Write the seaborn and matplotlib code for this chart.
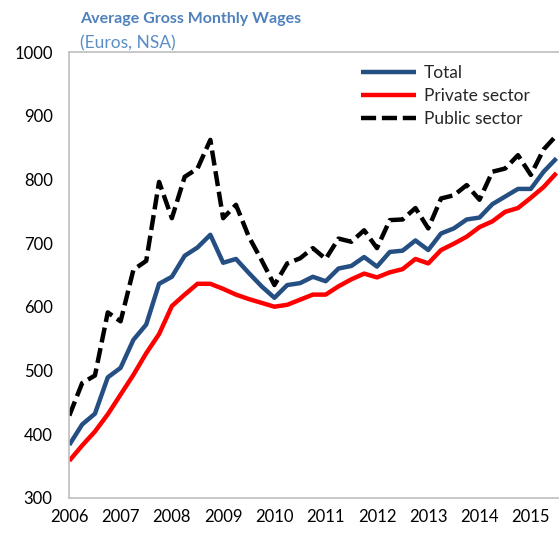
import pandas as pd
import seaborn as sns
import matplotlib.pyplot as plt

sns.set_theme(style="white")
plt.rcParams['font.family'] = ['Lato', 'DejaVu Sans']

# quarterly data, 2006Q1 .. 2015Q3
start_year = 2006
total = [383, 415, 432, 489, 504, 548, 572, 636, 647, 680,
         693, 713, 669, 675, 653, 632, 614, 634, 637, 647,
         640, 660, 664, 678, 663, 686, 688, 704, 689, 715,
         723, 737, 740, 761, 773, 785, 785, 812, 833]
private = [358, 382, 404, 431, 462, 493, 527, 557, 601, 619,
           636, 636, 628, 619, 612, 606, 600, 603, 611, 619,
           619, 632, 643, 652, 646, 654, 659, 675, 668, 689,
           699, 710, 725, 734, 749, 755, 771, 788, 810]
public = [429, 480, 492, 591, 577, 658, 672, 796, 739, 804,
          817, 862, 739, 760, 710, 673, 634, 668, 676, 692,
          675, 707, 702, 720, 692, 736, 737, 755, 723, 770,
          775, 791, 768, 812, 817, 838, 807, 847, 869]
series_names = ['Total', 'Private sector', 'Public sector']
year_ticks = list(range(2006, 2016))
y_ticks = [300, 400, 500, 600, 700, 800, 900, 1000]

quarter = [start_year + i / 4 for i in range(len(total))]
df = pd.DataFrame({
    'quarter': quarter * 3,
    'value': total + private + public,
    'series': [series_names[0]] * len(total) + [series_names[1]] * len(private)
              + [series_names[2]] * len(public),
})

colors = {'Total': '#254e83', 'Private sector': '#ff0000', 'Public sector': '#000000'}
dashes = {'Total': '', 'Private sector': '', 'Public sector': (3.4, 1.3)}

fig = plt.figure(figsize=(5.59, 5.33), dpi=100)
ax = fig.add_axes([0.124, 0.0662, 0.876, 0.8362])

sns.lineplot(data=df, x='quarter', y='value', hue='series', style='series',
             palette=colors, dashes=dashes, linewidth=3.2, ax=ax, legend=False)

ax.set_xlim(2006, 2015.55)
ax.set_ylim(300, 1000)
ax.set_xticks(year_ticks)
ax.set_xticklabels([str(y) for y in year_ticks])
ax.set_yticks(y_ticks)
ax.set_xlabel('')
ax.set_ylabel('')
ax.tick_params(axis='both', direction='in', length=5, width=1, color='#bfbfbf',
               labelsize=12, labelcolor='black')
ax.tick_params(axis='y', pad=12)
ax.tick_params(axis='x', pad=8)
for side in ['left', 'bottom', 'top']:
    ax.spines[side].set_color('#bfbfbf')
    ax.spines[side].set_linewidth(1.2)
ax.spines['right'].set_visible(False)

# legend, drawn from the lines
handles = ax.get_lines()[:3]
for h in handles:
    h.set_solid_capstyle('butt')
leg = ax.legend(handles, series_names, loc='upper left', bbox_to_anchor=(0.574, 0.995),
                frameon=False, fontsize=12.5, handlelength=3.2, handletextpad=0.45,
                labelspacing=0.42, borderaxespad=0.2)

fig.text(80 / 559, 1 - 19 / 533, 'Average Gross Monthly Wages', fontsize=11.5,
         fontweight='bold', color='#4f81bd', va='center', ha='left')
fig.text(80 / 559, 1 - 43 / 533, '(Euros, NSA)', fontsize=12.5,
         color='#5b8ec5', va='center', ha='left')

plt.savefig('out.png', dpi=100)
plt.close()
